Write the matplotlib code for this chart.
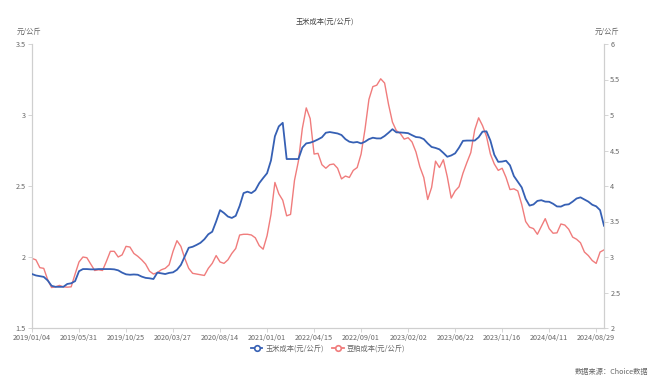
import matplotlib
matplotlib.use("Agg")
import matplotlib.pyplot as plt
from matplotlib.lines import Line2D

plt.rcParams["font.family"] = ["Noto Sans CJK SC", "DejaVu Sans"]

# x-axis tick labels (category axis, one label every 12 points)
DATE_LABELS = ["2019/01/04", "2019/05/31", "2019/10/25", "2020/03/27", "2020/08/14",
               "2021/01/01", "2022/04/15", "2022/09/01", "2023/02/02", "2023/06/22",
               "2023/11/16", "2024/04/11", "2024/08/29"]
LABEL_STEP = 12

# 玉米成本 (元/公斤), left axis
CORN = [
    1.88, 1.87, 1.865, 1.86, 1.835, 1.797, 1.79, 1.79, 1.79, 1.81,
    1.815, 1.83, 1.90, 1.915, 1.915, 1.913, 1.913, 1.915, 1.915, 1.915,
    1.915, 1.913, 1.906, 1.89, 1.878, 1.875, 1.877, 1.875, 1.862, 1.853,
    1.85, 1.845, 1.89, 1.885, 1.88, 1.888, 1.892, 1.91, 1.944, 2.005,
    2.065, 2.072, 2.085, 2.10, 2.125, 2.16, 2.178, 2.25, 2.33, 2.31,
    2.285, 2.275, 2.29, 2.36, 2.45, 2.46, 2.45, 2.47, 2.52, 2.556,
    2.59, 2.68, 2.85, 2.92, 2.945, 2.69, 2.69, 2.69, 2.69, 2.77,
    2.80, 2.805, 2.815, 2.828, 2.843, 2.875, 2.88, 2.875, 2.87, 2.859,
    2.83, 2.812, 2.806, 2.81, 2.80, 2.812, 2.83, 2.84, 2.835, 2.835,
    2.852, 2.875, 2.90, 2.878, 2.877, 2.875, 2.872, 2.858, 2.845, 2.842,
    2.83, 2.80, 2.775, 2.768, 2.758, 2.733, 2.706, 2.715, 2.73, 2.77,
    2.818, 2.82, 2.82, 2.82, 2.843, 2.883, 2.885, 2.82, 2.72, 2.67,
    2.672, 2.678, 2.646, 2.57, 2.53, 2.49, 2.41, 2.362, 2.37, 2.395,
    2.40, 2.39, 2.389, 2.375, 2.356, 2.355, 2.368, 2.371, 2.39, 2.412,
    2.42, 2.405, 2.39, 2.368, 2.357, 2.33, 2.22,
]

# 豆粕成本 (元/公斤), right axis
MEAL = [
    2.98, 2.96, 2.85, 2.84, 2.68, 2.57, 2.58, 2.60, 2.58, 2.575,
    2.58, 2.76, 2.93, 3.00, 2.99, 2.90, 2.81, 2.82, 2.81, 2.94,
    3.08, 3.08, 3.00, 3.03, 3.15, 3.14, 3.05, 3.01, 2.96, 2.90,
    2.80, 2.76, 2.78, 2.82, 2.84, 2.89, 3.08, 3.23, 3.15, 2.98,
    2.84, 2.77, 2.76, 2.75, 2.74, 2.84, 2.91, 3.02, 2.93, 2.91,
    2.96, 3.05, 3.12, 3.31, 3.32, 3.32, 3.31, 3.27, 3.16, 3.11,
    3.30, 3.60, 4.05, 3.89, 3.80, 3.58, 3.60, 4.08, 4.35, 4.81,
    5.10, 4.95, 4.45, 4.46, 4.30, 4.25, 4.30, 4.31, 4.25, 4.10,
    4.14, 4.12, 4.22, 4.26, 4.45, 4.80, 5.22, 5.40, 5.42, 5.51,
    5.45, 5.15, 4.90, 4.78, 4.74, 4.66, 4.68, 4.62, 4.48, 4.27,
    4.12, 3.81, 3.98, 4.35, 4.26, 4.37, 4.13, 3.83, 3.93, 3.99,
    4.18, 4.33, 4.47, 4.79, 4.96, 4.85, 4.70, 4.45, 4.31, 4.22,
    4.25, 4.12, 3.95, 3.96, 3.93, 3.74, 3.50, 3.42, 3.40, 3.32,
    3.43, 3.54, 3.40, 3.335, 3.34, 3.465, 3.45, 3.39, 3.28, 3.25,
    3.20, 3.07, 3.02, 2.95, 2.91, 3.07, 3.10,
]

BLUE = "#3660b4"
RED = "#f07c7c"
AXIS_GRAY = "#cfcfcf"
TEXT_GRAY = "#666666"
FS = 5.2

W, H = 650, 381
fig = plt.figure(figsize=(W / 100, H / 100), dpi=100)
ax = fig.add_axes([32 / W, (H - 328) / H, 572 / W, 284 / H])
ax2 = ax.twinx()

x = list(range(len(CORN)))
ax.plot(x, CORN, color=BLUE, lw=1.3, zorder=3)
ax2.plot(x, MEAL, color=RED, lw=1.0, zorder=2)
ax.set_zorder(ax2.get_zorder() + 1)
ax.patch.set_visible(False)

ax.set_xlim(0, len(CORN) - 1)
ax.set_ylim(1.5, 3.5)
ax2.set_ylim(2, 6)
ax.set_yticks([1.5, 2, 2.5, 3, 3.5])
ax.set_yticklabels(["1.5", "2", "2.5", "3", "3.5"])
ax2.set_yticks([2, 2.5, 3, 3.5, 4, 4.5, 5, 5.5, 6])
ax2.set_yticklabels(["2", "2.5", "3", "3.5", "4", "4.5", "5", "5.5", "6"])
ax.set_xticks([i * LABEL_STEP for i in range(len(DATE_LABELS))])
ax.set_xticklabels(DATE_LABELS)

for a in (ax, ax2):
    for side in ("top",):
        a.spines[side].set_visible(False)
    for side in ("left", "right", "bottom"):
        a.spines[side].set_color(AXIS_GRAY)
        a.spines[side].set_linewidth(0.8)
    a.tick_params(colors=AXIS_GRAY, labelcolor=TEXT_GRAY, labelsize=FS,
                  length=3, width=0.6, pad=1.5)

fig.text(325 / W, 1 - 22 / H, "玉米成本(元/公斤)", ha="center", va="center",
         fontsize=FS, color="#444444")
fig.text(29 / W, 1 - 32 / H, "元/公斤", ha="center", va="center",
         fontsize=FS, color=TEXT_GRAY)
fig.text(607 / W, 1 - 32 / H, "元/公斤", ha="center", va="center",
         fontsize=FS, color=TEXT_GRAY)
fig.text(648 / W, 1 - 372 / H, "数据来源：Choice数据", ha="right", va="center",
         fontsize=FS, color=TEXT_GRAY)

handles = [
    Line2D([], [], color=BLUE, lw=1.3, marker="o", markersize=4,
           markerfacecolor="white", markeredgewidth=1.2),
    Line2D([], [], color=RED, lw=1.3, marker="o", markersize=4,
           markerfacecolor="white", markeredgewidth=1.2),
]
fig.legend(handles, ["玉米成本(元/公斤)", "豆粕成本(元/公斤)"],
           loc="center", bbox_to_anchor=(328 / W, 1 - 349 / H), ncol=2,
           frameon=False, fontsize=FS, handlelength=1.6, handletextpad=0.4,
           columnspacing=1.2, labelcolor=TEXT_GRAY)

fig.savefig("out.png", dpi=100)
